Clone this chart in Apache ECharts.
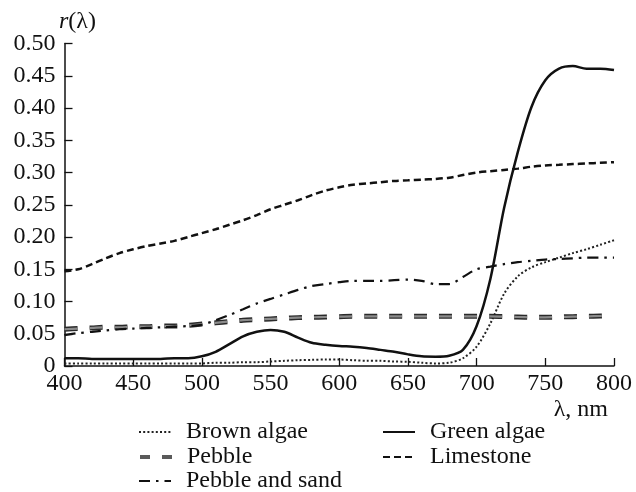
<!DOCTYPE html>
<html><head><meta charset="utf-8">
<script src="https://cdn.jsdelivr.net/npm/echarts@6/dist/echarts.min.js"></script>
<style>html,body{margin:0;padding:0;background:#fff}#c{width:636px;height:492px}</style>
</head><body><div id="c"></div>
<script>
const wavelengths = [400,410,420,430,440,450,460,470,480,490,500,510,520,530,540,550,560,570,580,590,600,610,620,630,640,650,660,670,680,690,700,710,720,730,740,750,760,770,780,790,800];
const brownAlgae = [0.004,0.004,0.004,0.004,0.004,0.004,0.004,0.004,0.004,0.004,0.004,0.005,0.005,0.006,0.006,0.007,0.008,0.009,0.0095,0.010,0.010,0.009,0.008,0.008,0.007,0.0065,0.005,0.004,0.005,0.012,0.030,0.066,0.112,0.139,0.153,0.161,0.168,0.175,0.181,0.188,0.195];
const greenAlgae = [0.012,0.012,0.011,0.011,0.011,0.011,0.011,0.011,0.012,0.012,0.015,0.022,0.034,0.046,0.053,0.056,0.053,0.044,0.036,0.033,0.031,0.030,0.028,0.025,0.022,0.018,0.015,0.0145,0.016,0.025,0.062,0.135,0.245,0.332,0.402,0.443,0.461,0.465,0.461,0.461,0.459];
const pebble = [0.057,0.058,0.059,0.060,0.060,0.061,0.061,0.062,0.062,0.063,0.065,0.067,0.069,0.071,0.072,0.073,0.074,0.075,0.0755,0.076,0.0765,0.077,0.077,0.077,0.077,0.077,0.077,0.077,0.077,0.077,0.077,0.077,0.0765,0.076,0.0755,0.0755,0.076,0.0765,0.077,0.0775,0.078];
const limestone = [0.147,0.150,0.158,0.167,0.175,0.181,0.186,0.190,0.194,0.200,0.206,0.212,0.219,0.226,0.234,0.243,0.250,0.257,0.265,0.272,0.277,0.281,0.283,0.285,0.287,0.288,0.289,0.290,0.292,0.296,0.300,0.302,0.304,0.306,0.309,0.311,0.312,0.313,0.314,0.315,0.316];
const pebbleSand = [0.048,0.051,0.053,0.055,0.057,0.058,0.059,0.060,0.061,0.062,0.064,0.071,0.079,0.088,0.097,0.104,0.111,0.118,0.124,0.127,0.130,0.132,0.132,0.132,0.133,0.134,0.132,0.127,0.127,0.138,0.150,0.154,0.158,0.161,0.163,0.165,0.166,0.167,0.168,0.168,0.168];
const seriesNames = ['Brown algae','Green algae','Pebble','Limestone','Pebble and sand'];

const pairs = arr => wavelengths.map((w,i)=>[w,arr[i]]);
const FONT = 'Liberation Serif';
const FS = 24;
const INK = '#111';
const chart = echarts.init(document.getElementById('c'));

function mkSeries(name, arr, lineStyle, z){
  return {name, type:'line', data:pairs(arr), symbol:'none', smooth:0.3, z:z||2,
    lineStyle:Object.assign({cap:'butt'}, lineStyle), itemStyle:{color:lineStyle.color}};
}
function mkLegend(name, left, top, extra){
  return Object.assign({data:[name], left, top, orient:'vertical', itemWidth:32, itemHeight:14,
    itemStyle:{opacity:0, borderWidth:0},
    textStyle:{fontFamily:FONT, fontSize:FS, color:INK, lineHeight:24, padding:[0,0,0,10]}, selectedMode:false}, extra||{});
}

chart.setOption({
  animation:false,
  grid:{left:64.5, right:22, top:43.5, bottom:126},
  title:[
    {text:'{i|r}(λ)', left:54, top:5, textStyle:{fontFamily:FONT, fontSize:FS, fontWeight:'normal', color:INK,
      rich:{i:{fontStyle:'italic', fontFamily:FONT, fontSize:FS, color:INK}}}},
    {text:'λ, nm', right:23, top:393, textStyle:{fontFamily:FONT, fontSize:FS, fontWeight:'normal', color:INK}}
  ],
  legend:[
    mkLegend('Brown algae',133,415),
    mkLegend('Pebble',133,440,{lineStyle:{color:'#5a5a5a', width:4, type:[10,12]}}),
    mkLegend('Pebble and sand',133,464),
    mkLegend('Green algae',377,415),
    mkLegend('Limestone',377,440)
  ],
  xAxis:{type:'value', min:400, max:800, interval:50,
    axisLine:{lineStyle:{color:INK, width:1.5}},
    axisTick:{inside:true, length:8, lineStyle:{color:INK, width:1.3}},
    splitLine:{show:false},
    axisLabel:{fontFamily:FONT, fontSize:FS, color:INK, margin:6, lineHeight:24}},
  yAxis:{type:'value', min:0, max:0.5, interval:0.05,
    axisLine:{show:true, lineStyle:{color:INK, width:1.5}},
    axisTick:{show:true, inside:true, length:8, lineStyle:{color:INK, width:1.3}},
    splitLine:{show:false},
    axisLabel:{fontFamily:FONT, fontSize:FS, color:INK, margin:9,
      formatter:v=> v===0 ? '0' : v.toFixed(2)}},
  series:[
    mkSeries('Brown algae', brownAlgae, {color:'#222', width:2, type:[2,2.2]}),
    mkSeries('Green algae', greenAlgae, {color:INK, width:2.5, type:'solid'}),
    mkSeries('PebbleEdge', pebble, {color:'#2a2a2a', width:5, type:[13,12]}, 1),
    mkSeries('Pebble', pebble, {color:'#8c8c8c', width:2.2, type:[13,12]}, 2),
    mkSeries('Limestone', limestone, {color:INK, width:2.5, type:[7,4]}),
    mkSeries('Pebble and sand', pebbleSand, {color:INK, width:2.2, type:[11,6,2.5,6]})
  ]
});
</script></body></html>
